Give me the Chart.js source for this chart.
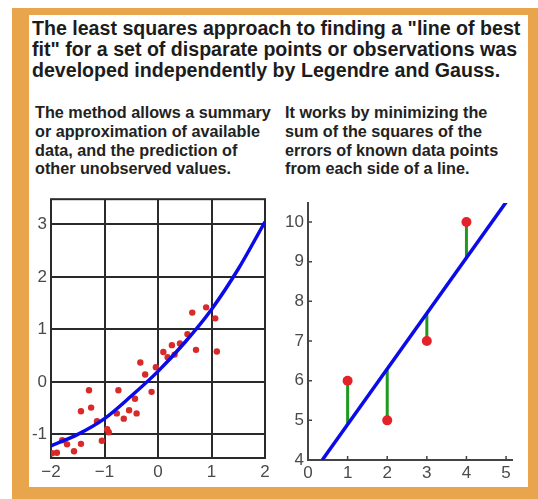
<!DOCTYPE html>
<html>
<head>
<meta charset="utf-8">
<script src="https://cdn.jsdelivr.net/npm/chart.js@4"></script>
<style>
  html, body { margin: 0; padding: 0; background: #fff; }
  body { width: 538px; height: 499px; position: relative; overflow: hidden; font-family: 'Liberation Sans', Arial, sans-serif; }
  #frame { position: absolute; left: 12px; top: 8px; width: 526px; height: 491px; background: #e9a54c; }
  #panel { position: absolute; left: 29px; top: 15px; width: 499px; height: 472px; background: #fff; }
  .title { position: absolute; left: 32px; top: 18px; font-size: 19.6px; line-height: 21px; font-weight: bold; color: #1c1c1c; white-space: nowrap; }
  .sub { position: absolute; top: 103px; font-size: 16.2px; line-height: 18.8px; font-weight: bold; color: #222; white-space: nowrap; }
  canvas { position: absolute; }
</style>
</head>
<body>
<div id="frame"></div>
<div id="panel"></div>
<div class="title">The least squares approach to finding a "line of best<br>fit" for a set of disparate points or observations was<br>developed independently by Legendre and Gauss.</div>
<div class="sub" style="left:35px">The method allows a summary<br>or approximation of available<br>data, and the prediction of<br>other unobserved values.</div>
<div class="sub" style="left:285px">It works by minimizing the<br>sum of the squares of the<br>errors of known data points<br>from each side of a line.</div>
<canvas id="fitChart" width="246" height="302" style="left:29px;top:185px"></canvas>
<canvas id="residChart" width="253" height="302" style="left:275px;top:185px"></canvas>
<script>
// scattered observations
const cloudX = [-1.98, -1.89, -1.79, -1.70, -1.57, -1.44, -1.44, -1.29, -1.25, -1.14, -1.05, -0.95, -0.92, -0.77, -0.74, -0.64, -0.54,
  -0.43, -0.40, -0.33, -0.24, -0.12, -0.04, 0.10, 0.18, 0.26, 0.31, 0.41, 0.55, 0.64, 0.71, 0.90, 1.07, 1.10];
const cloudY = [-1.36, -1.35, -1.11, -1.19, -1.32, -1.18, -0.56, -0.16, -0.49, -0.75, -1.12, -0.90, -0.96, -0.60, -0.16, -0.70, -0.54,
  -0.32, -0.60, 0.37, 0.14, -0.19, 0.28, 0.57, 0.47, 0.70, 0.52, 0.73, 0.91, 1.32, 0.61, 1.42, 1.21, 0.58];

// fitted curve through the cloud
const curveX = [-2, -1.5, -1, -0.5, 0, 0.5, 1, 1.5, 2];
const curveY = [-1.22, -1.0, -0.7, -0.27, 0.2, 0.75, 1.38, 2.15, 3.05];

const leftXTicks = [-2, -1, 0, 1, 2];
const leftXLabels = ['\u22122', '\u22121', '0', '1', '2'];
const leftYTicks = [-1, 0, 1, 2, 3];
const leftYLabels = ['-1', '0', '1', '2', '3'];

// four known points and the least squares line
const obsX = [1, 2, 3, 4];
const obsY = [6, 5, 7, 10];
const fitAtObs = [4.9, 6.3, 7.7, 9.1];
const lineX = [0.36, 5];
const lineY = [4, 10.5];

const rightXTicks = [0, 1, 2, 3, 4, 5];
const rightYTicks = [4, 5, 6, 7, 8, 9, 10];

const pts = (xs, ys) => xs.map((x, i) => ({ x: x, y: ys[i] }));
const tickFont = { family: "'Liberation Sans', Arial, sans-serif", size: 17 };
const tickColor = '#4a4a4a';

// box round the plot area
const boxPlugin = {
  id: 'box',
  beforeDatasetsDraw(chart) {
    const a = chart.chartArea, ctx = chart.ctx;
    ctx.save();
    ctx.strokeStyle = '#2a2a2a';
    ctx.lineWidth = 2;
    ctx.strokeRect(a.left, a.top, a.right - a.left, a.bottom - a.top);
    ctx.restore();
  }
};

// short tick marks pointing into the plot
const inwardTicks = {
  id: 'inwardTicks',
  afterDraw(chart) {
    const ctx = chart.ctx, a = chart.chartArea;
    const xs = chart.scales.x, ys = chart.scales.y;
    ctx.save();
    ctx.strokeStyle = '#444';
    ctx.lineWidth = 1.5;
    ctx.beginPath();
    xs.ticks.forEach(t => {
      const px = xs.getPixelForValue(t.value);
      ctx.moveTo(px, a.bottom);
      ctx.lineTo(px, a.bottom - 4);
    });
    ys.ticks.forEach(t => {
      const py = ys.getPixelForValue(t.value);
      ctx.moveTo(a.left, py);
      ctx.lineTo(a.left + 4, py);
    });
    ctx.stroke();
    ctx.restore();
  }
};

new Chart(document.getElementById('fitChart'), {
  type: 'scatter',
  data: {
    datasets: [
      {
        data: pts(curveX, curveY),
        showLine: true,
        borderColor: '#0b0be8',
        borderWidth: 3.5,
        pointRadius: 0,
        cubicInterpolationMode: 'monotone'
      },
      {
        data: pts(cloudX, cloudY),
        pointRadius: 3.2,
        pointBackgroundColor: '#d92a2a',
        pointBorderWidth: 0
      }
    ]
  },
  options: {
    responsive: false,
    animation: false,
    layout: { padding: { top: 7, right: 10, left: 0, bottom: 0 } },
    plugins: { legend: { display: false }, tooltip: { enabled: false } },
    scales: {
      x: {
        min: -2, max: 2,
        afterBuildTicks: s => { s.ticks = leftXTicks.map(v => ({ value: v })); },
        afterFit: s => { s.height = 29; },
        grid: { color: '#2a2a2a', lineWidth: 2, drawTicks: false },
        border: { display: false },
        ticks: { font: tickFont, color: tickColor, padding: 4, maxRotation: 0,
          callback: v => leftXLabels[leftXTicks.indexOf(v)] }
      },
      y: {
        min: -1.45, max: 3.48,
        afterBuildTicks: s => { s.ticks = leftYTicks.map(v => ({ value: v })); },
        afterFit: s => { s.width = 22; },
        grid: { color: '#2a2a2a', lineWidth: 2, drawTicks: false },
        border: { display: false },
        ticks: { font: tickFont, color: tickColor, padding: 4,
          callback: v => leftYLabels[leftYTicks.indexOf(v)] }
      }
    }
  },
  plugins: [boxPlugin]
});

const residuals = obsX.map((x, i) => ({
  data: [{ x: x, y: obsY[i] }, { x: x, y: fitAtObs[i] }],
  showLine: true,
  borderColor: '#1f9a1f',
  borderWidth: 3,
  pointRadius: 0
}));

new Chart(document.getElementById('residChart'), {
  type: 'scatter',
  data: {
    datasets: [
      {
        data: pts(obsX, obsY),
        pointRadius: 5,
        pointBackgroundColor: '#e3222a',
        pointBorderWidth: 0
      },
      {
        data: pts(lineX, lineY),
        showLine: true,
        borderColor: '#0b0be8',
        borderWidth: 3.5,
        pointRadius: 0
      }
    ].concat(residuals)
  },
  options: {
    responsive: false,
    animation: false,
    layout: { padding: { top: 18, right: 16, left: 0, bottom: 0 } },
    plugins: { legend: { display: false }, tooltip: { enabled: false } },
    scales: {
      x: {
        min: 0, max: 5.15,
        afterBuildTicks: s => { s.ticks = rightXTicks.map(v => ({ value: v })); },
        afterFit: s => { s.height = 27; },
        grid: { display: false, drawTicks: false },
        border: { display: true, color: '#444', width: 2 },
        ticks: { font: tickFont, color: tickColor, padding: 3, maxRotation: 0 }
      },
      y: {
        min: 4, max: 10.48,
        afterBuildTicks: s => { s.ticks = rightYTicks.map(v => ({ value: v })); },
        afterFit: s => { s.width = 33; },
        grid: { display: false, drawTicks: false },
        border: { display: true, color: '#444', width: 2 },
        ticks: { font: tickFont, color: tickColor, padding: 4 }
      }
    }
  },
  plugins: [inwardTicks]
});
</script>
</body>
</html>
